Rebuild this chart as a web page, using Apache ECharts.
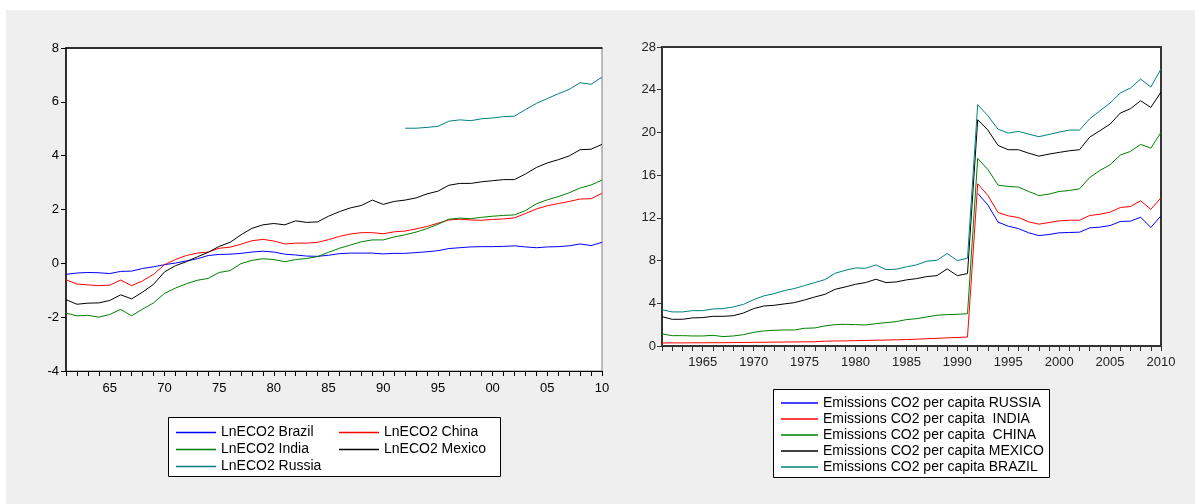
<!DOCTYPE html>
<html><head><meta charset="utf-8">
<script src="https://cdn.jsdelivr.net/npm/echarts@6/dist/echarts.min.js"></script>
<style>
html,body{margin:0;padding:0;background:#fff;}
#panel{position:absolute;left:6px;top:10px;width:1189px;height:494px;background:#efefef;}
#chart{position:absolute;left:0;top:0;width:1195px;height:504px;}
</style></head>
<body><div id="panel"></div><div id="chart"></div>
<script>
const years = [];
for (let y = 1961; y <= 2010; y++) years.push(y);

// Left panel: LnECO2
const lnBrazil = [-0.41,-0.36,-0.34,-0.35,-0.38,-0.30,-0.29,-0.19,-0.13,-0.05,
  0.01,0.09,0.17,0.29,0.33,0.34,0.37,0.42,0.45,0.42,
  0.34,0.31,0.27,0.26,0.30,0.36,0.38,0.38,0.38,0.35,
  0.37,0.37,0.40,0.43,0.47,0.55,0.58,0.61,0.62,0.62,
  0.63,0.65,0.61,0.58,0.61,0.62,0.65,0.72,0.66,0.78];
const lnChina = [-0.61,-0.77,-0.80,-0.83,-0.81,-0.62,-0.83,-0.65,-0.41,-0.05,
  0.14,0.29,0.38,0.42,0.56,0.60,0.71,0.84,0.89,0.83,
  0.72,0.75,0.75,0.78,0.88,1.00,1.09,1.14,1.14,1.10,
  1.17,1.20,1.28,1.37,1.49,1.61,1.64,1.61,1.60,1.63,
  1.65,1.69,1.85,2.02,2.14,2.22,2.30,2.39,2.40,2.60];
const lnIndia = [-1.85,-1.95,-1.93,-2.00,-1.90,-1.71,-1.95,-1.70,-1.47,-1.12,
  -0.92,-0.76,-0.63,-0.56,-0.34,-0.27,-0.01,0.11,0.17,0.14,
  0.06,0.14,0.18,0.25,0.41,0.56,0.68,0.80,0.87,0.87,
  0.98,1.06,1.16,1.29,1.45,1.64,1.68,1.66,1.71,1.75,
  1.78,1.80,1.96,2.21,2.36,2.48,2.62,2.80,2.91,3.09];
const lnMexico = [-1.35,-1.52,-1.48,-1.47,-1.38,-1.17,-1.32,-1.07,-0.78,-0.32,
  -0.09,0.06,0.24,0.41,0.63,0.78,1.06,1.30,1.43,1.48,
  1.43,1.58,1.52,1.54,1.75,1.92,2.06,2.15,2.35,2.19,
  2.30,2.35,2.43,2.58,2.68,2.90,2.97,2.97,3.03,3.07,
  3.11,3.11,3.32,3.56,3.73,3.85,3.99,4.22,4.24,4.42];
const lnRussia = [null,null,null,null,null,null,null,null,null,null,
  null,null,null,null,null,null,null,null,null,null,
  null,null,null,null,null,null,null,null,null,null,
  null,5.02,5.02,5.05,5.09,5.28,5.33,5.30,5.37,5.40,
  5.45,5.47,5.71,5.94,6.12,6.30,6.46,6.71,6.65,6.92];

// Right panel: Emissions CO2 per capita (as drawn)
const emRussia = [null,null,null,null,null,null,null,null,null,null,
  null,null,null,null,null,null,null,null,null,null,
  null,null,null,null,null,null,null,null,null,null,
  null,14.30,13.20,11.60,11.22,11.00,10.60,10.34,10.44,10.60,
  10.63,10.66,11.06,11.13,11.28,11.66,11.69,12.06,11.10,12.19];
const emIndia = [0.28,0.29,0.29,0.30,0.30,0.31,0.31,0.32,0.33,0.34,
  0.35,0.36,0.37,0.38,0.39,0.40,0.45,0.47,0.48,0.50,
  0.52,0.54,0.56,0.58,0.60,0.64,0.68,0.72,0.76,0.80,
  0.84,15.19,14.10,12.50,12.19,12.03,11.63,11.41,11.56,11.72,
  11.78,11.78,12.22,12.34,12.53,12.97,13.06,13.60,12.80,13.88];
const emChina = [1.13,0.97,0.97,0.94,0.94,1.00,0.88,0.94,1.06,1.28,
  1.41,1.47,1.50,1.50,1.66,1.69,1.88,2.00,2.03,2.00,
  1.97,2.09,2.19,2.28,2.47,2.56,2.72,2.88,2.94,2.97,
  3.03,17.56,16.53,15.06,14.94,14.88,14.47,14.09,14.22,14.47,
  14.56,14.72,15.78,16.44,16.97,17.88,18.22,18.88,18.53,20.00];
const emMexico = [2.75,2.50,2.50,2.63,2.66,2.78,2.78,2.84,3.09,3.50,
  3.75,3.81,3.94,4.06,4.31,4.59,4.84,5.31,5.53,5.78,
  5.94,6.25,5.94,6.00,6.19,6.31,6.50,6.59,7.22,6.59,
  6.78,21.19,20.22,18.78,18.38,18.38,18.06,17.78,17.97,18.13,
  18.28,18.38,19.56,20.16,20.78,21.81,22.22,22.97,22.34,23.78];
const emBrazil = [3.40,3.19,3.19,3.31,3.31,3.47,3.50,3.66,3.90,4.34,
  4.69,4.90,5.19,5.38,5.66,5.94,6.22,6.81,7.09,7.31,
  7.28,7.59,7.16,7.19,7.41,7.60,7.94,8.03,8.66,8.00,
  8.22,22.60,21.56,20.30,19.94,20.10,19.84,19.60,19.81,20.03,
  20.22,20.22,21.28,22.03,22.75,23.69,24.16,25.00,24.25,25.94];

const leftNames = ['LnECO2 Brazil','LnECO2 China','LnECO2 India','LnECO2 Mexico','LnECO2 Russia'];
const rightNames = ['Emissions CO2 per capita RUSSIA','Emissions CO2 per capita  INDIA','Emissions CO2 per capita  CHINA','Emissions CO2 per capita MEXICO','Emissions CO2 per capita BRAZIL'];

const FONT = '"Liberation Sans", Arial, sans-serif';
const cBlue = '#0000ff', cRed = '#ff0000', cGreen = '#008000', cBlack = '#000000', cTeal = '#008080';

function mkLine(name, data, color, xi, yi) {
  return { name, type: 'line', data, xAxisIndex: xi, yAxisIndex: yi,
    symbol: 'none', connectNulls: false, animation: false,
    lineStyle: { color, width: 1 }, itemStyle: { color } };
}

const chart = echarts.init(document.getElementById('chart'), null, { renderer: 'canvas' });
const legText = { fontFamily: FONT, fontSize: 14, color: '#000', lineHeight: 17 };
const legTextR = { fontFamily: FONT, fontSize: 14, color: '#000', lineHeight: 16 };
chart.setOption({
  backgroundColor: 'transparent',
  animation: false,
  textStyle: { fontFamily: FONT },
  graphic: [
    { type: 'rect', shape: { x: 168.5, y: 417.5, width: 332, height: 59 }, style: { fill: '#fff', stroke: '#000', lineWidth: 1 }, z: -1 },
    { type: 'rect', shape: { x: 773.5, y: 389.5, width: 276, height: 88 }, style: { fill: '#fff', stroke: '#000', lineWidth: 1 }, z: -1 }
  ],
  grid: [
    { left: 66, top: 48, width: 536, height: 323, show: true, backgroundColor: '#fff', borderColor: '#808080', borderWidth: 1 },
    { left: 662, top: 47, width: 499, height: 299, show: true, backgroundColor: '#fff', borderColor: '#333', borderWidth: 2 }
  ],
  legend: [
    { data: [leftNames[0], leftNames[2], leftNames[4]], orient: 'vertical', left: 176, top: 424, itemGap: 0, padding: 0,
      icon: 'rect', itemWidth: 40, itemHeight: 1.5, textStyle: legText, selectedMode: false },
    { data: [leftNames[1], leftNames[3]], orient: 'vertical', left: 339, top: 424, itemGap: 0, padding: 0,
      icon: 'rect', itemWidth: 40, itemHeight: 1.5, textStyle: legText, selectedMode: false },
    { data: rightNames, orient: 'vertical', left: 781, top: 395, itemGap: 0, padding: 0,
      icon: 'rect', itemWidth: 37, itemHeight: 1.5, textStyle: legTextR, selectedMode: false }
  ],
  xAxis: [
    { type: 'category', gridIndex: 0, data: years, boundaryGap: false,
      axisLine: { onZero: false, lineStyle: { color: '#000', width: 1 } },
      axisTick: { show: true, interval: 0, length: 5, lineStyle: { color: '#000' } },
      axisLabel: { interval: (i, v) => Number(v) % 5 === 0, formatter: v => String(v).slice(2),
        fontSize: 13, color: '#000', fontFamily: FONT, margin: 11, showMaxLabel: true },
      splitLine: { show: false } },
    { type: 'category', gridIndex: 1, data: years, boundaryGap: false,
      axisLine: { onZero: false, lineStyle: { color: '#333', width: 2 } },
      axisTick: { show: true, interval: 0, length: 5, lineStyle: { color: '#333' } },
      axisLabel: { interval: (i, v) => Number(v) % 5 === 0,
        fontSize: 13, color: '#222', fontFamily: FONT, margin: 10, showMaxLabel: true },
      splitLine: { show: false } },
    { type: 'category', gridIndex: 0, data: years, boundaryGap: false, position: 'top',
      axisLine: { onZero: false, lineStyle: { color: '#000', width: 1.5 } },
      axisTick: { show: false }, axisLabel: { show: false }, splitLine: { show: false } }
  ],
  yAxis: [
    { type: 'value', gridIndex: 0, min: -4, max: 8, interval: 2,
      axisLine: { show: true, onZero: false, lineStyle: { color: '#000', width: 1.5 } },
      axisTick: { show: true, length: 5, lineStyle: { color: '#000' } },
      axisLabel: { fontSize: 13, color: '#000', fontFamily: FONT, margin: 7 },
      splitLine: { show: false } },
    { type: 'value', gridIndex: 1, min: 0, max: 28, interval: 4,
      axisLine: { show: true, onZero: false, lineStyle: { color: '#333', width: 2 } },
      axisTick: { show: true, length: 5, lineStyle: { color: '#333' } },
      axisLabel: { fontSize: 13, color: '#222', fontFamily: FONT, margin: 6 },
      splitLine: { show: false } }
  ],
  series: [
    mkLine(leftNames[0], lnBrazil, cBlue, 0, 0),
    mkLine(leftNames[1], lnChina, cRed, 0, 0),
    mkLine(leftNames[2], lnIndia, cGreen, 0, 0),
    mkLine(leftNames[3], lnMexico, cBlack, 0, 0),
    mkLine(leftNames[4], lnRussia, cTeal, 0, 0),
    mkLine(rightNames[0], emRussia, cBlue, 1, 1),
    mkLine(rightNames[1], emIndia, cRed, 1, 1),
    mkLine(rightNames[2], emChina, cGreen, 1, 1),
    mkLine(rightNames[3], emMexico, cBlack, 1, 1),
    mkLine(rightNames[4], emBrazil, cTeal, 1, 1)
  ]
});
</script></body></html>
